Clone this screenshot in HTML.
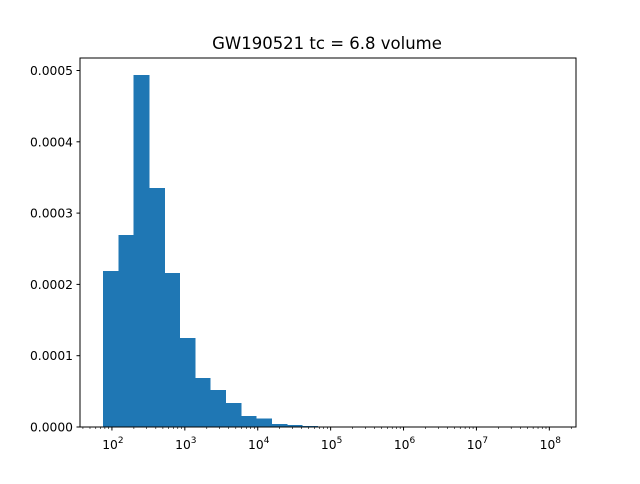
<!DOCTYPE html>
<html><head><meta charset="utf-8"><style>
body{margin:0;background:#fff;font-family:"DejaVu Sans","Liberation Sans",sans-serif}
</style></head><body>
<svg id="chart" width="640" height="480" xmlns="http://www.w3.org/2000/svg" font-family="DejaVu Sans, Liberation Sans, sans-serif">
<rect width="640" height="480" fill="#fff"/>
<text x="327" y="49" font-size="16.5" text-anchor="middle">GW190521 tc = 6.8 volume</text>
<g id="bars" shape-rendering="crispEdges"></g>
<g id="axes"></g>
</svg>
<script>
const binStartLog = 1.877;
const binWidthLog = 0.21;
const densities = [2.19e-4,2.69e-4,4.94e-4,3.35e-4,2.16e-4,1.25e-4,0.69e-4,0.52e-4,0.34e-4,0.155e-4,0.12e-4,0.04e-4,0.025e-4,0.016e-4,0,0,0,0,0,0,0,0,0,0,0,0,0,0,0,0];
const yTicks = [0,0.0001,0.0002,0.0003,0.0004,0.0005];
const yTickLabels = ["0.0000","0.0001","0.0002","0.0003","0.0004","0.0005"];
const xDecades = [2,3,4,5,6,7,8];

const L=80,R=576,T=58,B=427;
const xMinLog=1.562, xMaxLog=xMinLog+(R-L)/72.9;
const sx=v=>L+(v-xMinLog)/(xMaxLog-xMinLog)*(R-L);
const sy=v=>B-v/0.0001*71.3;
const NS="http://www.w3.org/2000/svg";
function mk(t,a,p){const e=document.createElementNS(NS,t);for(const k in a)e.setAttribute(k,a[k]);p.appendChild(e);return e;}
const bars=document.getElementById('bars'), axes=document.getElementById('axes');
densities.forEach((d,i)=>{
  if(d<=0)return;
  const x0=sx(binStartLog+i*binWidthLog), x1=sx(binStartLog+(i+1)*binWidthLog);
  const r=mk('rect',{x:x0,y:sy(d),width:x1-x0+0.6,height:B-sy(d),fill:'#1f77b4'},bars);
  
  
});
const frame=mk('rect',{x:L,y:T,width:R-L,height:B-T,fill:'none',stroke:'#000','stroke-width':1},axes);


yTicks.forEach((v,i)=>{
  const y=sy(v);
  mk('line',{x1:L-3.5,x2:L,y1:y,y2:y,stroke:'#000'},axes);
  const t=mk('text',{x:L-7,y:y+4.5,'font-size':12.3,'text-anchor':'end'},axes);
  t.textContent=yTickLabels[i];
  
  
});
xDecades.forEach(d=>{
  const x=sx(d);
  mk('line',{x1:x,x2:x,y1:B,y2:B+3.5,stroke:'#000'},axes);
  const t=mk('text',{x:x+1,y:B+22,'font-size':12.3,'text-anchor':'middle'},axes);
  t.innerHTML='10<tspan dy="-6" font-size="9">'+d+'</tspan>';
  
  
});
for(let d=1;d<=8;d++){for(let m=2;m<=9;m++){const lv=d+Math.log10(m);if(lv<xMinLog||lv>xMaxLog)continue;const x=sx(lv);mk('line',{x1:x,x2:x,y1:B,y2:B+2,stroke:'#000','stroke-width':0.6},axes);}}
</script>
</body></html>
